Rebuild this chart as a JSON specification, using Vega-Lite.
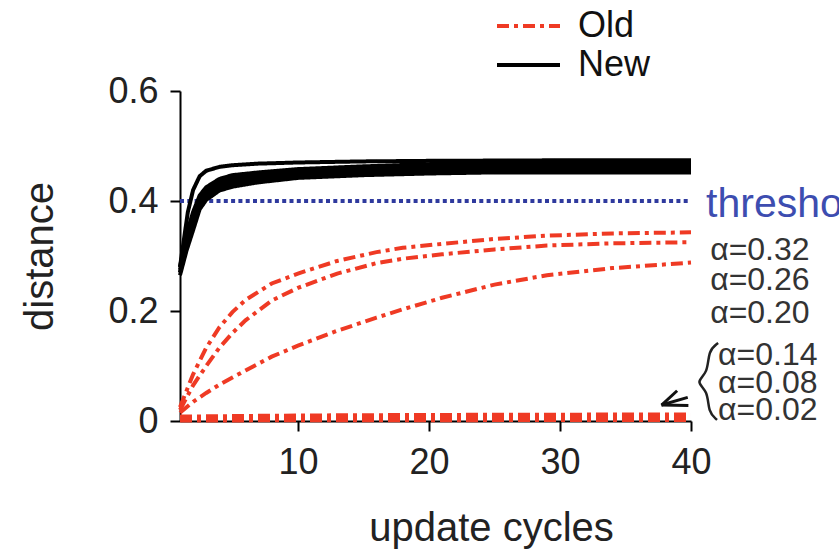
{
  "$schema": "https://vega.github.io/schema/vega-lite/v6.json",
  "width": 511,
  "height": 330,
  "autosize": {"type": "none"},
  "padding": {"left": 180, "top": 91, "right": 148, "bottom": 132},
  "background": "white",
  "config": {
    "view": {"stroke": null},
    "font": "Liberation Sans"
  },
  "datasets": {
    "curves": [
      {"series": "New 1", "type": "New", "x": 1, "y": 0.28},
      {"series": "New 1", "type": "New", "x": 1.3, "y": 0.33},
      {"series": "New 1", "type": "New", "x": 1.6, "y": 0.38},
      {"series": "New 1", "type": "New", "x": 2, "y": 0.42},
      {"series": "New 1", "type": "New", "x": 2.5, "y": 0.445},
      {"series": "New 1", "type": "New", "x": 3, "y": 0.455},
      {"series": "New 1", "type": "New", "x": 4, "y": 0.462},
      {"series": "New 1", "type": "New", "x": 5, "y": 0.465},
      {"series": "New 1", "type": "New", "x": 7, "y": 0.468},
      {"series": "New 1", "type": "New", "x": 10, "y": 0.47},
      {"series": "New 1", "type": "New", "x": 15, "y": 0.472},
      {"series": "New 1", "type": "New", "x": 20, "y": 0.473},
      {"series": "New 1", "type": "New", "x": 30, "y": 0.474},
      {"series": "New 1", "type": "New", "x": 40, "y": 0.474},
      {"series": "New 2", "type": "New", "x": 1, "y": 0.28},
      {"series": "New 2", "type": "New", "x": 1.5, "y": 0.34},
      {"series": "New 2", "type": "New", "x": 2, "y": 0.38},
      {"series": "New 2", "type": "New", "x": 2.5, "y": 0.41},
      {"series": "New 2", "type": "New", "x": 3, "y": 0.425},
      {"series": "New 2", "type": "New", "x": 4, "y": 0.44},
      {"series": "New 2", "type": "New", "x": 5, "y": 0.447},
      {"series": "New 2", "type": "New", "x": 7, "y": 0.452},
      {"series": "New 2", "type": "New", "x": 10, "y": 0.458},
      {"series": "New 2", "type": "New", "x": 15, "y": 0.463},
      {"series": "New 2", "type": "New", "x": 20, "y": 0.467},
      {"series": "New 2", "type": "New", "x": 25, "y": 0.47},
      {"series": "New 2", "type": "New", "x": 30, "y": 0.471},
      {"series": "New 2", "type": "New", "x": 40, "y": 0.472},
      {"series": "New 3", "type": "New", "x": 1, "y": 0.275},
      {"series": "New 3", "type": "New", "x": 1.5, "y": 0.33},
      {"series": "New 3", "type": "New", "x": 2, "y": 0.37},
      {"series": "New 3", "type": "New", "x": 2.5, "y": 0.403},
      {"series": "New 3", "type": "New", "x": 3, "y": 0.418},
      {"series": "New 3", "type": "New", "x": 4, "y": 0.434},
      {"series": "New 3", "type": "New", "x": 5, "y": 0.441},
      {"series": "New 3", "type": "New", "x": 7, "y": 0.447},
      {"series": "New 3", "type": "New", "x": 10, "y": 0.454},
      {"series": "New 3", "type": "New", "x": 15, "y": 0.459},
      {"series": "New 3", "type": "New", "x": 20, "y": 0.463},
      {"series": "New 3", "type": "New", "x": 25, "y": 0.465},
      {"series": "New 3", "type": "New", "x": 30, "y": 0.466},
      {"series": "New 3", "type": "New", "x": 40, "y": 0.467},
      {"series": "New 4", "type": "New", "x": 1, "y": 0.27},
      {"series": "New 4", "type": "New", "x": 1.5, "y": 0.32},
      {"series": "New 4", "type": "New", "x": 2, "y": 0.36},
      {"series": "New 4", "type": "New", "x": 2.5, "y": 0.397},
      {"series": "New 4", "type": "New", "x": 3, "y": 0.412},
      {"series": "New 4", "type": "New", "x": 4, "y": 0.429},
      {"series": "New 4", "type": "New", "x": 5, "y": 0.436},
      {"series": "New 4", "type": "New", "x": 7, "y": 0.443},
      {"series": "New 4", "type": "New", "x": 10, "y": 0.45},
      {"series": "New 4", "type": "New", "x": 15, "y": 0.455},
      {"series": "New 4", "type": "New", "x": 20, "y": 0.459},
      {"series": "New 4", "type": "New", "x": 25, "y": 0.461},
      {"series": "New 4", "type": "New", "x": 30, "y": 0.462},
      {"series": "New 4", "type": "New", "x": 40, "y": 0.462},
      {"series": "New 5", "type": "New", "x": 1, "y": 0.27},
      {"series": "New 5", "type": "New", "x": 1.5, "y": 0.315},
      {"series": "New 5", "type": "New", "x": 2, "y": 0.353},
      {"series": "New 5", "type": "New", "x": 2.5, "y": 0.391},
      {"series": "New 5", "type": "New", "x": 3, "y": 0.407},
      {"series": "New 5", "type": "New", "x": 4, "y": 0.424},
      {"series": "New 5", "type": "New", "x": 5, "y": 0.431},
      {"series": "New 5", "type": "New", "x": 7, "y": 0.439},
      {"series": "New 5", "type": "New", "x": 10, "y": 0.446},
      {"series": "New 5", "type": "New", "x": 15, "y": 0.451},
      {"series": "New 5", "type": "New", "x": 20, "y": 0.455},
      {"series": "New 5", "type": "New", "x": 25, "y": 0.457},
      {"series": "New 5", "type": "New", "x": 30, "y": 0.457},
      {"series": "New 5", "type": "New", "x": 40, "y": 0.457},
      {"series": "New 6", "type": "New", "x": 1, "y": 0.265},
      {"series": "New 6", "type": "New", "x": 1.5, "y": 0.31},
      {"series": "New 6", "type": "New", "x": 2, "y": 0.347},
      {"series": "New 6", "type": "New", "x": 2.5, "y": 0.385},
      {"series": "New 6", "type": "New", "x": 3, "y": 0.402},
      {"series": "New 6", "type": "New", "x": 4, "y": 0.419},
      {"series": "New 6", "type": "New", "x": 5, "y": 0.426},
      {"series": "New 6", "type": "New", "x": 7, "y": 0.434},
      {"series": "New 6", "type": "New", "x": 10, "y": 0.442},
      {"series": "New 6", "type": "New", "x": 15, "y": 0.447},
      {"series": "New 6", "type": "New", "x": 20, "y": 0.45},
      {"series": "New 6", "type": "New", "x": 25, "y": 0.452},
      {"series": "New 6", "type": "New", "x": 30, "y": 0.452},
      {"series": "New 6", "type": "New", "x": 40, "y": 0.452},
      {"series": "Old 0.32", "type": "Old", "x": 1, "y": 0.025},
      {"series": "Old 0.32", "type": "Old", "x": 2, "y": 0.085},
      {"series": "Old 0.32", "type": "Old", "x": 3, "y": 0.133},
      {"series": "Old 0.32", "type": "Old", "x": 4, "y": 0.17},
      {"series": "Old 0.32", "type": "Old", "x": 5, "y": 0.198},
      {"series": "Old 0.32", "type": "Old", "x": 6, "y": 0.22},
      {"series": "Old 0.32", "type": "Old", "x": 8, "y": 0.25},
      {"series": "Old 0.32", "type": "Old", "x": 10, "y": 0.268},
      {"series": "Old 0.32", "type": "Old", "x": 13, "y": 0.291},
      {"series": "Old 0.32", "type": "Old", "x": 16, "y": 0.307},
      {"series": "Old 0.32", "type": "Old", "x": 18, "y": 0.315},
      {"series": "Old 0.32", "type": "Old", "x": 21, "y": 0.322},
      {"series": "Old 0.32", "type": "Old", "x": 25, "y": 0.331},
      {"series": "Old 0.32", "type": "Old", "x": 29, "y": 0.337},
      {"series": "Old 0.32", "type": "Old", "x": 34, "y": 0.341},
      {"series": "Old 0.32", "type": "Old", "x": 40, "y": 0.343},
      {"series": "Old 0.26", "type": "Old", "x": 1, "y": 0.02},
      {"series": "Old 0.26", "type": "Old", "x": 2, "y": 0.065},
      {"series": "Old 0.26", "type": "Old", "x": 3, "y": 0.1},
      {"series": "Old 0.26", "type": "Old", "x": 4, "y": 0.133},
      {"series": "Old 0.26", "type": "Old", "x": 5, "y": 0.16},
      {"series": "Old 0.26", "type": "Old", "x": 6, "y": 0.183},
      {"series": "Old 0.26", "type": "Old", "x": 8, "y": 0.219},
      {"series": "Old 0.26", "type": "Old", "x": 10, "y": 0.242},
      {"series": "Old 0.26", "type": "Old", "x": 13, "y": 0.268},
      {"series": "Old 0.26", "type": "Old", "x": 16, "y": 0.287},
      {"series": "Old 0.26", "type": "Old", "x": 18, "y": 0.295},
      {"series": "Old 0.26", "type": "Old", "x": 21, "y": 0.303},
      {"series": "Old 0.26", "type": "Old", "x": 25, "y": 0.312},
      {"series": "Old 0.26", "type": "Old", "x": 29, "y": 0.319},
      {"series": "Old 0.26", "type": "Old", "x": 34, "y": 0.323},
      {"series": "Old 0.26", "type": "Old", "x": 40, "y": 0.325},
      {"series": "Old 0.20", "type": "Old", "x": 1, "y": 0.015},
      {"series": "Old 0.20", "type": "Old", "x": 2, "y": 0.035},
      {"series": "Old 0.20", "type": "Old", "x": 3, "y": 0.051},
      {"series": "Old 0.20", "type": "Old", "x": 4, "y": 0.066},
      {"series": "Old 0.20", "type": "Old", "x": 5, "y": 0.079},
      {"series": "Old 0.20", "type": "Old", "x": 6, "y": 0.092},
      {"series": "Old 0.20", "type": "Old", "x": 8, "y": 0.117},
      {"series": "Old 0.20", "type": "Old", "x": 10, "y": 0.137},
      {"series": "Old 0.20", "type": "Old", "x": 13, "y": 0.164},
      {"series": "Old 0.20", "type": "Old", "x": 16, "y": 0.188},
      {"series": "Old 0.20", "type": "Old", "x": 18, "y": 0.203},
      {"series": "Old 0.20", "type": "Old", "x": 21, "y": 0.224},
      {"series": "Old 0.20", "type": "Old", "x": 25, "y": 0.248},
      {"series": "Old 0.20", "type": "Old", "x": 29, "y": 0.265},
      {"series": "Old 0.20", "type": "Old", "x": 34, "y": 0.278},
      {"series": "Old 0.20", "type": "Old", "x": 40, "y": 0.288},
      {"series": "Old 0.14", "type": "Old", "x": 1, "y": 0.008},
      {"series": "Old 0.14", "type": "Old", "x": 10, "y": 0.01},
      {"series": "Old 0.14", "type": "Old", "x": 20, "y": 0.011},
      {"series": "Old 0.14", "type": "Old", "x": 40, "y": 0.012},
      {"series": "Old 0.08", "type": "Old", "x": 1, "y": 0.004},
      {"series": "Old 0.08", "type": "Old", "x": 20, "y": 0.006},
      {"series": "Old 0.08", "type": "Old", "x": 40, "y": 0.007},
      {"series": "Old 0.02", "type": "Old", "x": 1, "y": 0.001},
      {"series": "Old 0.02", "type": "Old", "x": 40, "y": 0.002}
    ],
    "threshold": [
      {"x": 1, "y": 0.4},
      {"x": 40, "y": 0.4}
    ],
    "thresholdLabel": [
      {"x": 41.15, "y": 0.393, "label": "threshold"}
    ],
    "alphaLabels": [
      {"x": 41.46, "y": 0.311, "label": "α=0.32"},
      {"x": 41.46, "y": 0.256, "label": "α=0.26"},
      {"x": 41.46, "y": 0.196, "label": "α=0.20"},
      {"x": 42.07, "y": 0.12, "label": "α=0.14"},
      {"x": 42.07, "y": 0.069, "label": "α=0.08"},
      {"x": 42.07, "y": 0.02, "label": "α=0.02"}
    ],
    "brace": [
      {"ord": 1, "x": 42.07, "y": 0.142},
      {"ord": 2, "x": 41.31, "y": 0.128},
      {"ord": 3, "x": 41.31, "y": 0.087},
      {"ord": 4, "x": 40.31, "y": 0.071},
      {"ord": 5, "x": 41.31, "y": 0.055},
      {"ord": 6, "x": 41.31, "y": 0.016},
      {"ord": 7, "x": 41.99, "y": 0.002}
    ],
    "arrow": [
      {"x": 37.75, "y": 0.029, "x2": 38.94, "y2": 0.055},
      {"x": 37.75, "y": 0.029, "x2": 39.75, "y2": 0.043},
      {"x": 37.75, "y": 0.029, "x2": 39.8, "y2": 0.028}
    ]
  },
  "encoding": {
    "x": {
      "field": "x",
      "type": "quantitative",
      "scale": {"domain": [1, 40], "nice": false, "zero": false},
      "axis": {
        "title": "update cycles",
        "values": [10, 20, 30, 40],
        "grid": false,
        "tickSize": 10,
        "tickWidth": 2,
        "tickColor": "black",
        "domainColor": "black",
        "domainWidth": 2,
        "labelFontSize": 36,
        "labelColor": "#222",
        "labelPadding": 14,
        "labelFlush": false,
        "titleFontSize": 40,
        "titleFontWeight": "normal",
        "titleColor": "#222",
        "titleX": 311,
        "titleY": 107,
        "titleBaseline": "middle",
        "titleAlign": "center"
      }
    },
    "y": {
      "field": "y",
      "type": "quantitative",
      "scale": {"domain": [0, 0.6], "nice": false},
      "axis": {
        "title": "distance",
        "values": [0, 0.2, 0.4, 0.6],
        "format": ".1~f",
        "grid": false,
        "tickSize": 10,
        "tickWidth": 2,
        "tickColor": "black",
        "domainColor": "black",
        "domainWidth": 2,
        "labelFontSize": 36,
        "labelColor": "#222",
        "labelPadding": 12,
        "labelFlush": false,
        "titleFontSize": 40,
        "titleFontWeight": "normal",
        "titleColor": "#222",
        "titleX": -140,
        "titleY": 165,
        "titleAngle": -90,
        "titleBaseline": "middle",
        "titleAlign": "center"
      }
    }
  },
  "layer": [
    {
      "data": {"name": "threshold"},
      "mark": {"type": "line", "color": "#2f3a9e", "strokeWidth": 4, "strokeDash": [4, 3.3]}
    },
    {
      "data": {"name": "curves"},
      "mark": {"type": "line", "strokeWidth": 4, "strokeCap": "butt"},
      "encoding": {
        "detail": {"field": "series"},
        "color": {
          "field": "type",
          "type": "nominal",
          "scale": {"domain": ["Old", "New"], "range": ["#ef3a24", "#000000"]},
          "legend": {
            "orient": "none",
            "legendX": 315,
            "legendY": -84,
            "title": null,
            "padding": 0,
            "symbolType": "stroke",
            "symbolSize": 3969,
            "symbolStrokeWidth": 4,
            "labelFontSize": 36,
            "labelColor": "#111",
            "labelOffset": 16,
            "clipHeight": 38,
            "rowPadding": 1
          }
        },
        "strokeDash": {
          "field": "type",
          "type": "nominal",
          "scale": {"domain": ["Old", "New"], "range": [[12, 5, 4, 5], [1, 0]]},
          "legend": {
            "orient": "none",
            "legendX": 315,
            "legendY": -84,
            "title": null,
            "padding": 0,
            "symbolType": "stroke",
            "symbolSize": 3969,
            "symbolStrokeWidth": 4,
            "labelFontSize": 36,
            "labelColor": "#111",
            "labelOffset": 16,
            "clipHeight": 38,
            "rowPadding": 1
          }
        }
      }
    },
    {
      "data": {"name": "thresholdLabel"},
      "mark": {"type": "text", "align": "left", "baseline": "middle", "fontSize": 41, "color": "#3d4db0"},
      "encoding": {"text": {"field": "label"}}
    },
    {
      "data": {"name": "alphaLabels"},
      "mark": {"type": "text", "align": "left", "baseline": "middle", "fontSize": 32, "color": "#333"},
      "encoding": {"text": {"field": "label"}}
    },
    {
      "data": {"name": "brace"},
      "mark": {"type": "line", "color": "#222", "strokeWidth": 2.5, "interpolate": "basis"},
      "encoding": {"order": {"field": "ord", "type": "quantitative"}}
    },
    {
      "data": {"name": "arrow"},
      "mark": {"type": "rule", "color": "#111", "strokeWidth": 3},
      "encoding": {
        "x2": {"field": "x2"},
        "y2": {"field": "y2"}
      }
    }
  ]
}
